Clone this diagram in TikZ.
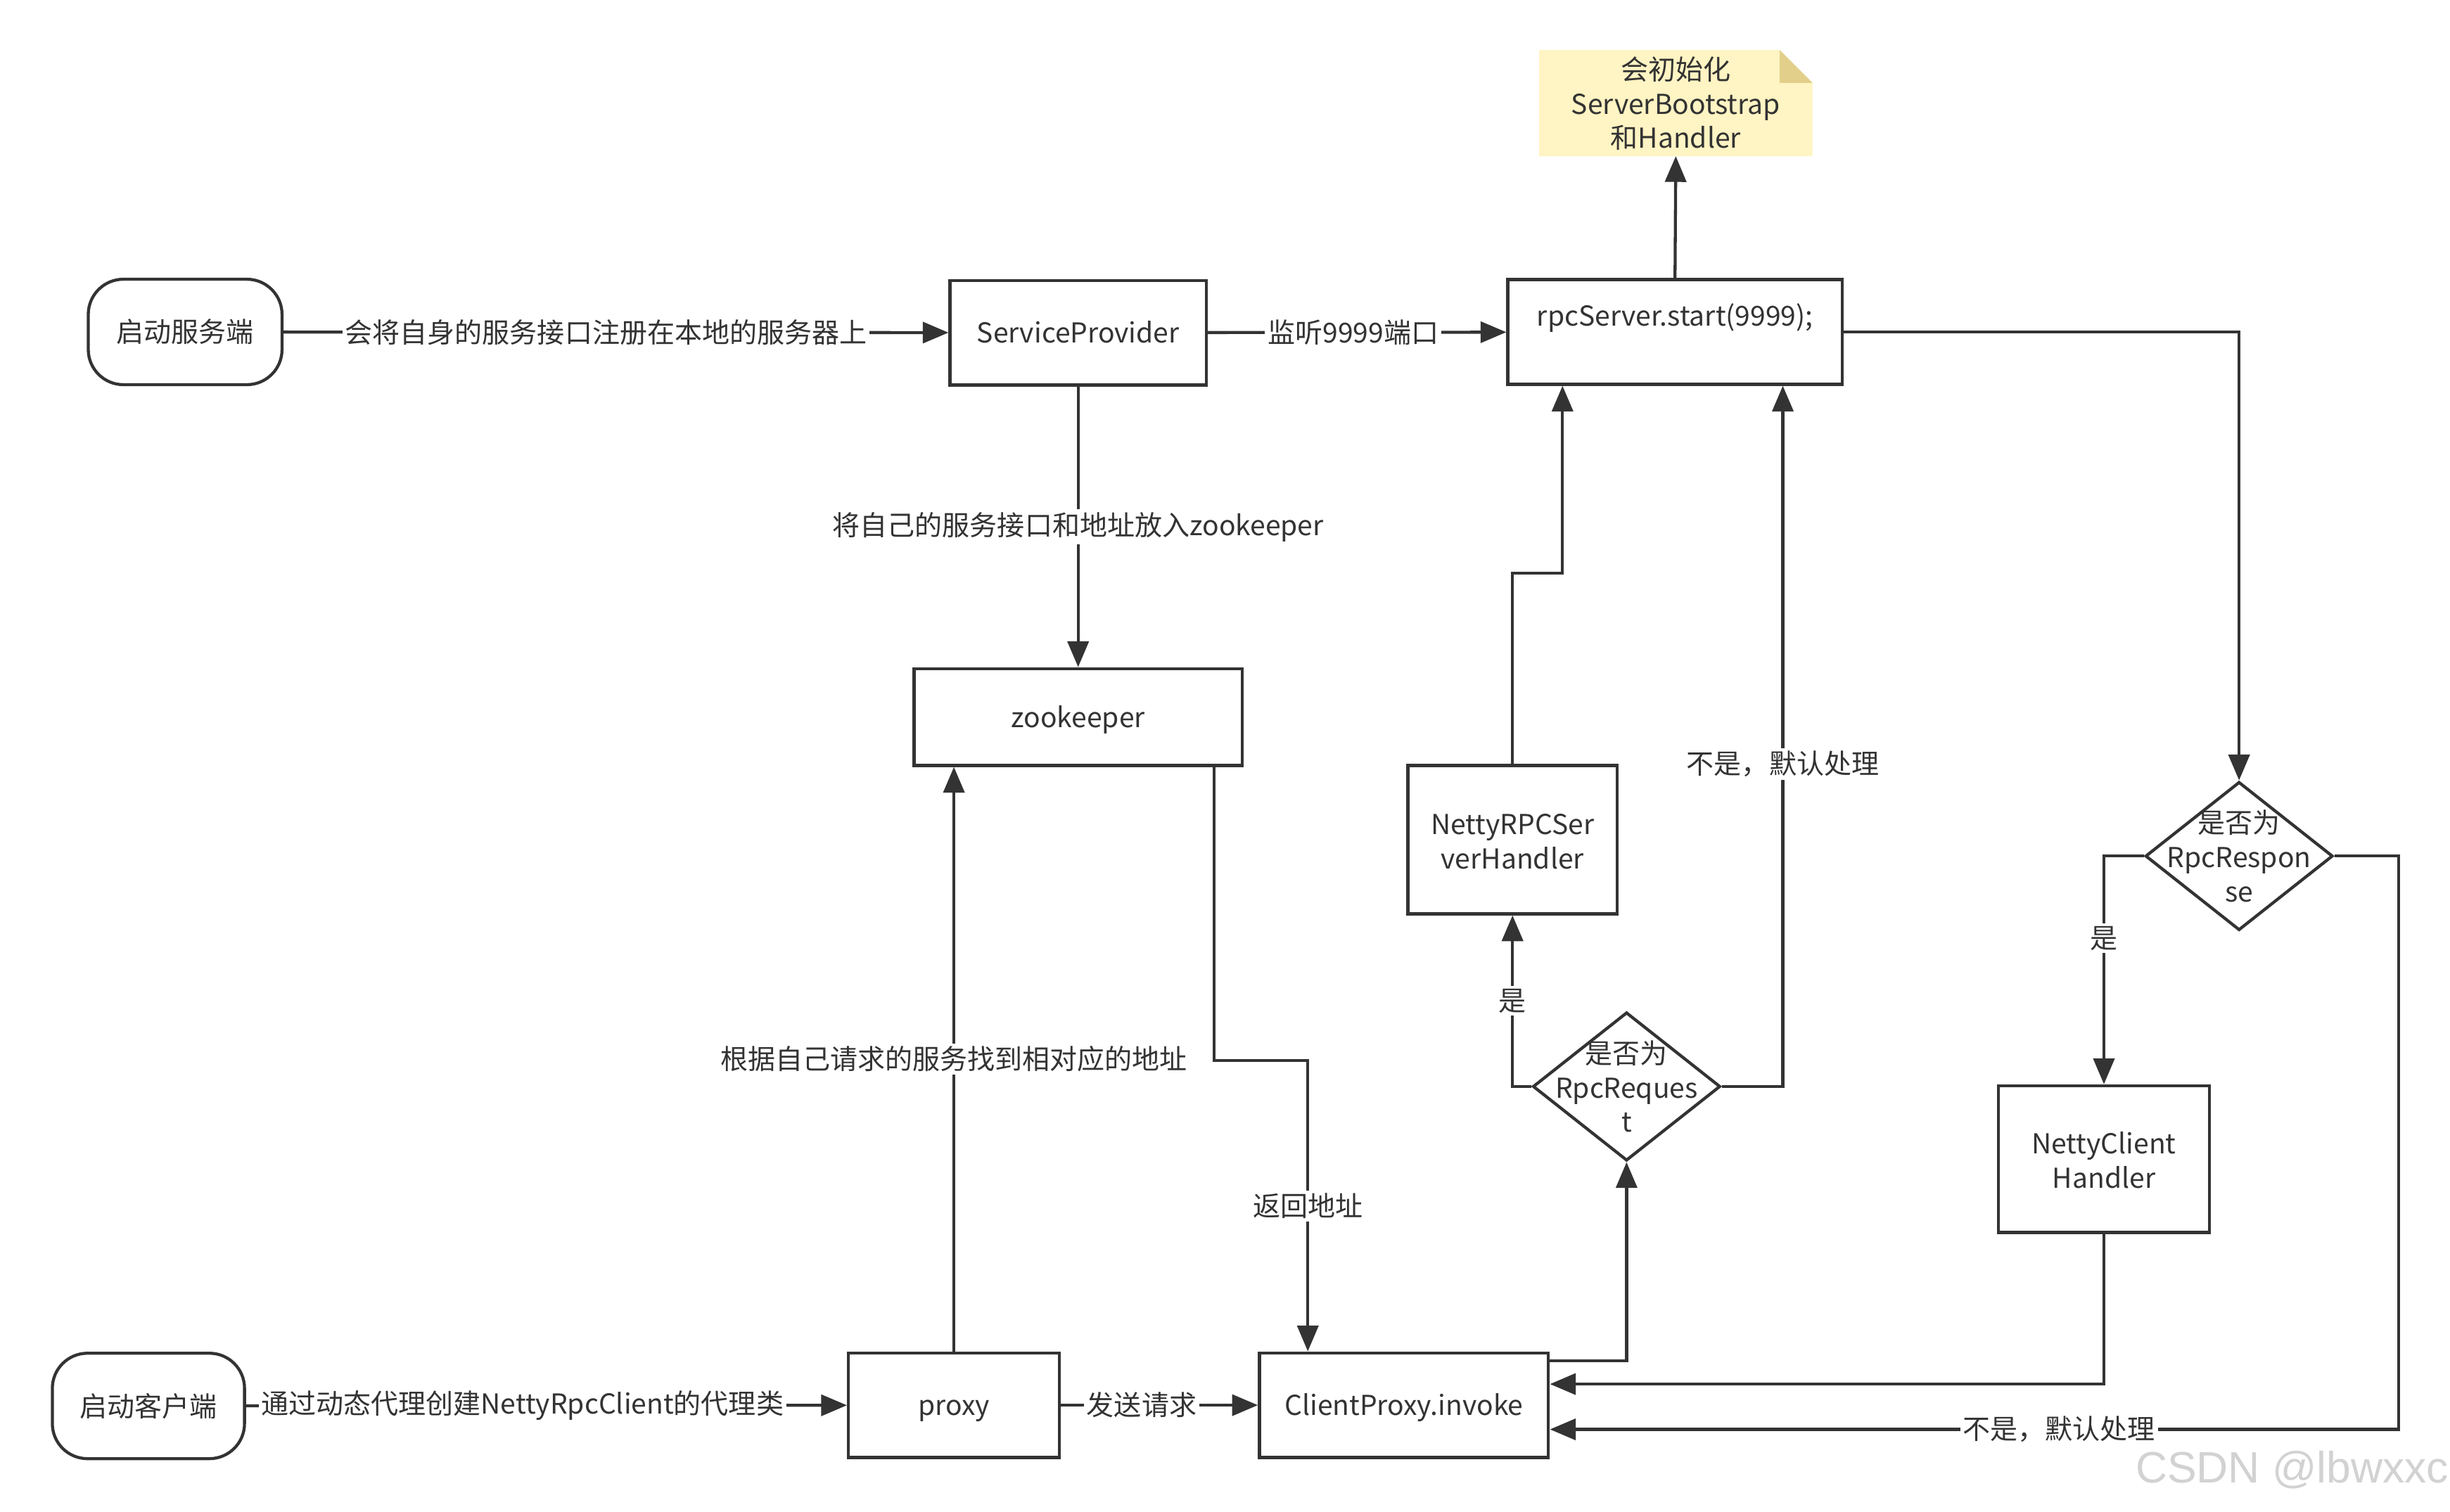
\documentclass[tikz,border=0pt]{standalone}
\usepackage{fontspec}
\setmainfont{Noto Sans CJK SC}
\newfontfamily\wmfont{Liberation Sans}
\definecolor{ink}{HTML}{333333}
\definecolor{note_fill}{HTML}{FFF4C3}
\definecolor{note_fold}{HTML}{E2CF8A}
\usetikzlibrary{arrows.meta, positioning, shapes.geometric, backgrounds}

\begin{document}
\begin{tikzpicture}[font=\fontsize{10pt}{12.5pt}\selectfont, color=ink, line width=1.1pt,
      blk/.style={draw=ink, align=center, inner sep=2pt,
                  minimum width=2.7cm, minimum height=1.34cm},
      oneline/.style={text height=8.8pt, text depth=1.2pt},
      term/.style={draw=ink, rounded corners=0.45cm, oneline,
                   minimum width=2.48cm, minimum height=1.35cm},
      dec/.style={draw=ink, diamond, inner sep=0pt,
                  minimum width=2.4cm, minimum height=1.9cm},
      lbl/.style={fill=white, inner sep=1pt},
      arr/.style={-{Triangle[length=0.33cm, width=0.27cm]}, ink}]
      \useasboundingbox (0,0) rectangle (31.36,-19.35);
      % server side
      \node[term] (srv_start) at (2.37,-4.25) {启动服务端};
      \node[blk, oneline, minimum width=3.28cm] (provider) at (13.8,-4.26) {ServiceProvider};
      \node[blk, minimum width=4.28cm] (rpc) at (21.44,-4.25) {rpcServer.start(9999);\\\phantom{x}};
      \node[align=center, inner sep=0pt, minimum width=3.46cm, minimum height=1.32cm]
        (note) at (21.45,-1.32) {\strut 会初始化\\ServerBootstrap\\和Handler};
      \node[blk, oneline, minimum width=4.2cm, minimum height=1.24cm] (zk) at (13.8,-9.18) {zookeeper};
      \node[blk, minimum width=2.68cm, minimum height=1.9cm] (srv_handler) at (19.36,-10.75) {\strut NettyRPCSer\\verHandler};
      \node[dec, label={[align=center]center:{是否为\\RpcReques\\t}}] (is_req) at (20.82,-13.91) {};
      \node[dec, label={[align=center]center:{是否为\\RpcRespon\\se}}] (is_resp) at (28.66,-10.96) {};
      \node[blk, minimum width=2.7cm, minimum height=1.88cm] (cli_handler) at (26.93,-14.84) {\strut NettyClient\\Handler};
      % client side
      \node[term, minimum width=2.46cm] (cli_start) at (1.9,-18.0) {启动客户端};
      \node[blk, oneline] (proxy) at (12.21,-17.99) {proxy};
      \node[blk, oneline, minimum width=3.7cm] (invoke) at (17.97,-17.99) {ClientProxy.invoke};
      \node[font=\wmfont\fontsize{16pt}{16pt}\selectfont, text=gray!35] (watermark) at (29.34,-18.82) {CSDN @lbwxxc};
      % note paper
      \begin{scope}[on background layer]
        \fill[note_fill] (note.south west) -- (note.south east) -- ([yshift=-0.42cm]note.north east)
          -- ([xshift=-0.42cm]note.north east) -- (note.north west) -- cycle;
        \fill[note_fold] ([xshift=-0.42cm]note.north east) -- ([xshift=-0.42cm, yshift=-0.42cm]note.north east)
          -- ([yshift=-0.42cm]note.north east) -- cycle;
      \end{scope}
      % connectors
      \draw[arr] (srv_start) -- node[lbl, pos=0.485] {会将自身的服务接口注册在本地的服务器上} (provider);
      \draw[arr] (provider) -- node[lbl, pos=0.487] {监听9999端口} (rpc);
      \draw[arr] (provider) -- node[lbl] {将自己的服务接口和地址放入zookeeper} (zk);
      \draw[arr] (rpc.north) -- (note.south);
      \draw[arr] (rpc.east) -| (is_resp.north);
      \draw[arr] ([xshift=1.74cm]zk.south) -- ++(0,-3.76)
        -| node[lbl, pos=0.75] {返回地址} ([xshift=-1.23cm]invoke.north);
      \draw[arr] (proxy.north) -- node[lbl] {根据自己请求的服务找到相对应的地址} (proxy.north |- zk.south);
      \draw[arr] (cli_start) -- node[lbl, pos=0.46] {通过动态代理创建NettyRpcClient的代理类} (proxy);
      \draw[arr] (proxy) -- node[lbl, pos=0.41] {发送请求} (invoke);
      \draw[arr] ([yshift=-0.12cm]invoke.north east) -| (is_req.south);
      \draw[arr] (is_req.west) -| node[lbl, pos=0.75] {是} (srv_handler.south);
      \draw[arr] (srv_handler.north) -- ++(0,2.44) -| ([xshift=-1.44cm]rpc.south);
      \draw[arr] (is_req.east) -| node[lbl, pos=0.73] {不是，默认处理} ([xshift=1.38cm]rpc.south);
      \draw[arr] (is_resp.west) -| node[lbl, pos=0.68] {是} (cli_handler.north);
      \draw[arr] (cli_handler.south) |- ([yshift=0.27cm]invoke.east);
      \draw[arr] (is_resp.east) -- ++(0.82,0)
        |- node[lbl, pos=0.70] {不是，默认处理} ([yshift=-0.31cm]invoke.east);
    \end{tikzpicture}
\end{document}
